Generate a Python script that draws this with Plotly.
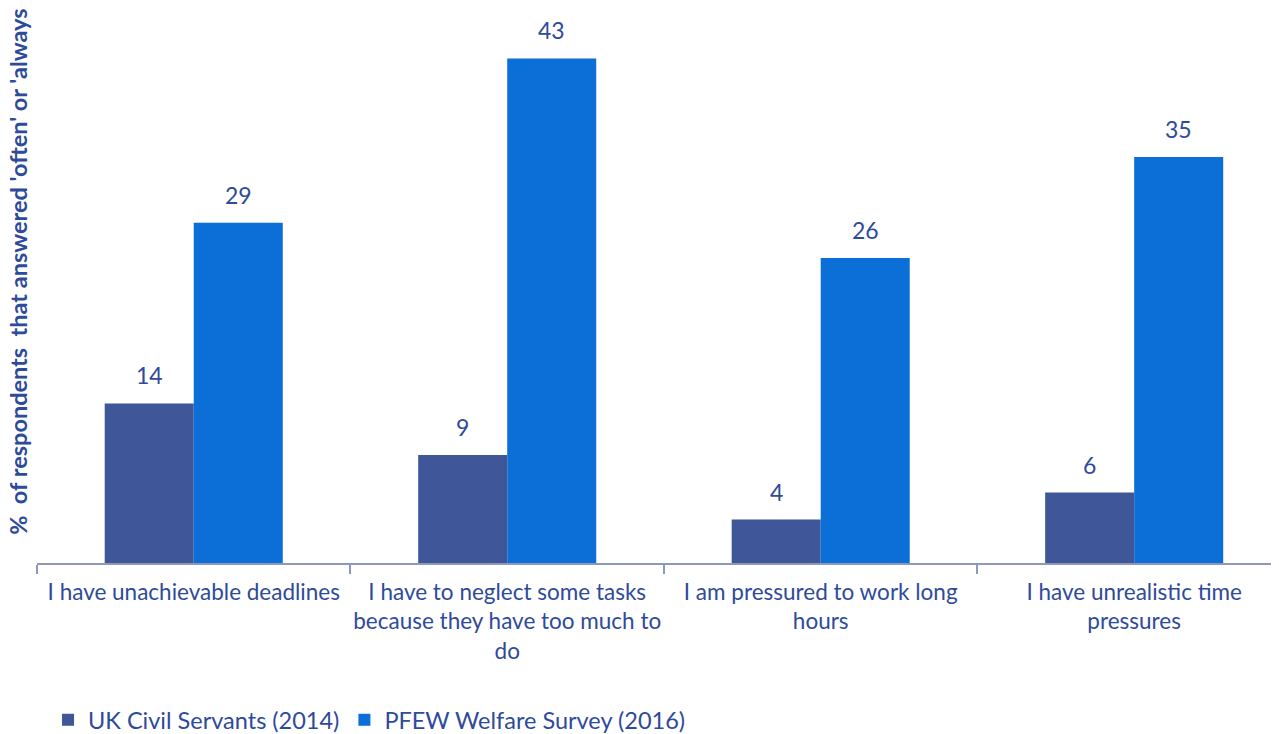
import plotly.graph_objects as go

categories = [
    "I have unachievable deadlines",
    "I have to neglect some tasks<br>because they have too much to<br>do",
    "I am pressured to work long<br>hours",
    "I have unrealistic time<br>pressures",
]
series_names = ["UK Civil Servants (2014)", "PFEW Welfare Survey (2016)"]
civil_servants = [13.6, 9.2, 3.7, 6.0]
pfew = [29.0, 43.0, 26.0, 34.6]
y_title = "%  of respondents  that answered 'often' or 'always'"

TEXT = "#2E4A9B"
DARK = "#3F5699"
BLUE = "#0C6FD8"
AXIS = "#8E99B9"
FONT = "Lato"

fig = go.Figure()
for name, vals, col in [(series_names[0], civil_servants, DARK), (series_names[1], pfew, BLUE)]:
    fig.add_trace(go.Bar(
        x=categories, y=vals, name=name, marker_color=col,
        marker_line_width=0,
    ))

# data labels above bars
for vals, shift in [(civil_servants, -44.5), (pfew, 44.5)]:
    for c, v in zip(categories, vals):
        fig.add_annotation(
            x=c, y=v, xref="x", yref="y", text=f"{v:.0f}", showarrow=False,
            xanchor="center", yanchor="bottom", xshift=shift, yshift=12,
            font=dict(color=TEXT, size=23, family=FONT),
        )

fig.add_annotation(
    text=y_title, textangle=-90, xref="paper", yref="paper",
    x=-0.0153, y=0.53, xanchor="center", yanchor="middle", showarrow=False,
    font=dict(color=TEXT, size=23.5, family=FONT, weight="bold"),
)

fig.update_layout(
    width=1271, height=734,
    margin=dict(l=29, r=0, t=0, b=179),
    plot_bgcolor="white", paper_bgcolor="white",
    barmode="group", bargap=0.432, bargroupgap=0,
    font=dict(family=FONT, color=TEXT, size=22),
    showlegend=True,
    legend=dict(
        orientation="h", xref="container", yref="container",
        x=0.0315, y=0.0, xanchor="left", yanchor="bottom",
        font=dict(size=23.5, color=TEXT, family=FONT),
        traceorder="normal", itemwidth=30,
    ),
)
fig.update_xaxes(
    range=[-0.5, 3.462], showline=True, linecolor=AXIS, linewidth=2,
    tickson="boundaries", ticks="outside", ticklen=9, tickcolor=AXIS, tickwidth=2,
    tickfont=dict(size=22.5, color=TEXT, family=FONT), showgrid=False,
    automargin=False, ticklabelstandoff=8, tickangle=0,
)
fig.update_yaxes(
    range=[0, 47.3], showgrid=False, showticklabels=False, zeroline=False, showline=False,
    automargin=False,
)
fig.write_html("out.html")
